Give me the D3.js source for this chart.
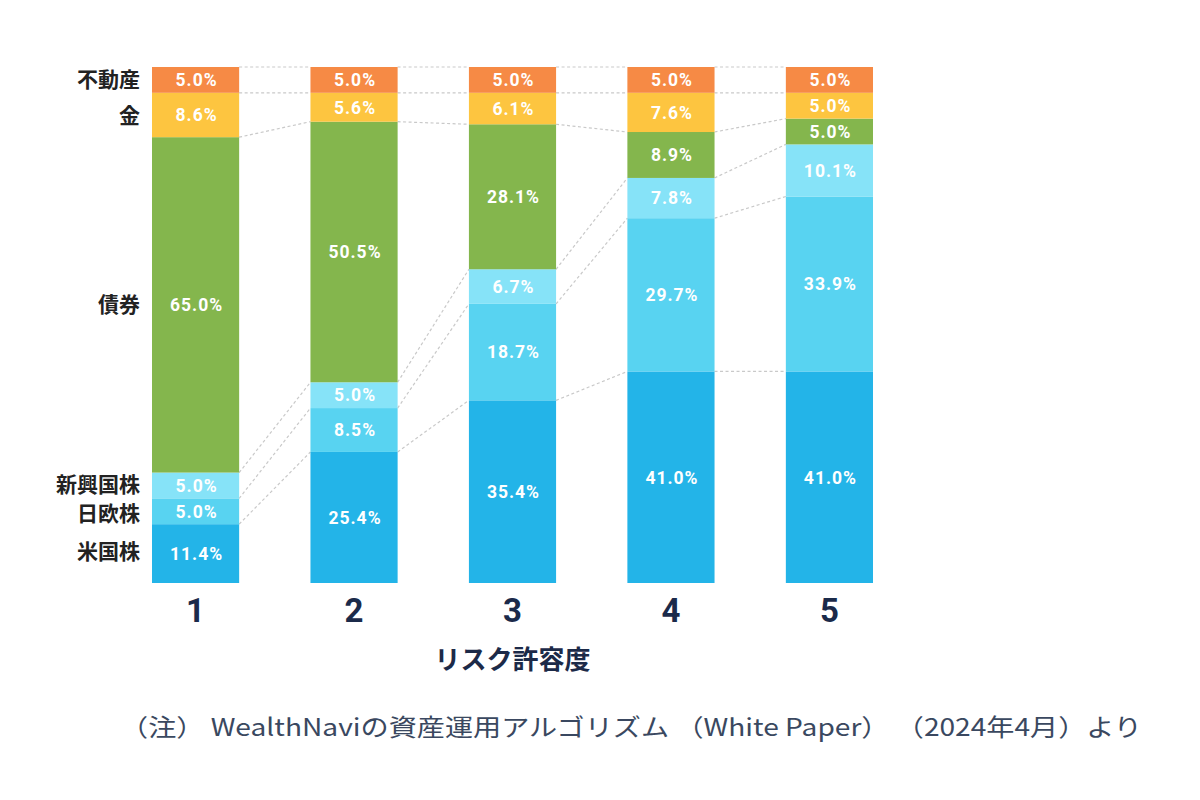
<!DOCTYPE html>
<html>
<head>
<meta charset="utf-8">
<script src="https://cdn.jsdelivr.net/npm/d3@7"></script>
<style>
  body { margin: 0; background: #fff; }
  svg { display: block; }
</style>
</head>
<body>
<div id="wrapper"></div>
<script>
// data
const levels = ["1", "2", "3", "4", "5"];
const assets = ["米国株", "日欧株", "新興国株", "債券", "金", "不動産"];
const usStocks = [11.4, 25.4, 35.4, 41.0, 41.0];
const jpEuStocks = [5.0, 8.5, 18.7, 29.7, 33.9];
const emStocks = [5.0, 5.0, 6.7, 7.8, 10.1];
const bonds = [65.0, 50.5, 28.1, 8.9, 5.0];
const gold = [8.6, 5.6, 6.1, 7.6, 5.0];
const realEstate = [5.0, 5.0, 5.0, 5.0, 5.0];
const xTitle = "リスク許容度";
const note = "（注） WealthNaviの資産運用アルゴリズム （White Paper） （2024年4月）より";

const colors = ["#23b4e8", "#58d3f1", "#86e3f8", "#84b64d", "#fdc540", "#f68a45"];
// small nudges so the crowded labels on the left don't collide
const labelNudge = { "米国株": -2, "日欧株": 2, "新興国株": -1.5 };

const series = [usStocks, jpEuStocks, emStocks, bonds, gold, realEstate];
const table = levels.map((lv, i) => {
  const row = { level: lv };
  assets.forEach((a, j) => (row[a] = series[j][i]));
  return row;
});
const stacked = d3.stack().keys(assets)(table);

// dimensions
const width = 1200, height = 800;
const svg = d3.select("#wrapper").append("svg")
  .attr("width", width).attr("height", height);

const xScale = d3.scaleBand()
  .domain(levels)
  .range([152, 873])
  .paddingInner(0.45)
  .paddingOuter(0);

const yScale = d3.scaleLinear()
  .domain([0, 100])
  .range([583, 67]);

// connectors
const connectors = svg.append("g");
stacked.forEach((s) => {
  for (let i = 0; i < levels.length - 1; i++) {
    connectors.append("line")
      .attr("x1", xScale(levels[i]) + xScale.bandwidth())
      .attr("x2", xScale(levels[i + 1]))
      .attr("y1", yScale(s[i][1]))
      .attr("y2", yScale(s[i + 1][1]))
      .attr("stroke", "#c9c9c9")
      .attr("stroke-width", 1.2)
      .attr("stroke-dasharray", "3 2.5");
  }
});

// bars
const layers = svg.append("g").selectAll("g")
  .data(stacked)
  .join("g")
  .attr("fill", (d, i) => colors[i]);

layers.selectAll("rect")
  .data((d) => d)
  .join("rect")
  .attr("x", (d) => xScale(d.data.level))
  .attr("width", xScale.bandwidth())
  .attr("y", (d) => yScale(d[1]))
  .attr("height", (d) => yScale(d[0]) - yScale(d[1]));

layers.selectAll("text")
  .data((d) => d)
  .join("text")
  .attr("x", (d) => xScale(d.data.level) + xScale.bandwidth() / 2 + 1)
  .attr("y", (d) => (yScale(d[0]) + yScale(d[1])) / 2)
  .attr("dy", "0.36em")
  .attr("text-anchor", "middle")
  .attr("fill", "#fff")
  .style("font-family", "Roboto, 'Noto Sans', sans-serif")
  .style("font-weight", "bold")
  .style("font-size", "17.5px")
  .style("letter-spacing", "1px")
  .text((d) => (d[1] - d[0]).toFixed(1) + "%");

// category labels (aligned to first bar)
svg.append("g").selectAll("text")
  .data(stacked)
  .join("text")
  .attr("x", 140)
  .attr("y", (s) => (yScale(s[0][0]) + yScale(s[0][1])) / 2 + (labelNudge[s.key] || 0))
  .attr("dy", "0.36em")
  .attr("text-anchor", "end")
  .attr("fill", "#222")
  .style("font-family", "'Noto Sans CJK JP', sans-serif")
  .style("font-weight", "bold")
  .style("font-size", "21px")
  .text((s) => s.key);

// x axis
const xAxis = svg.append("g")
  .attr("transform", "translate(0,583)")
  .call(d3.axisBottom(xScale).tickSize(0).tickPadding(16));
xAxis.select(".domain").remove();
xAxis.selectAll("text")
  .attr("fill", "#1b2a4a")
  .style("font-family", "Roboto, 'Noto Sans', sans-serif")
  .style("font-weight", "bold")
  .style("font-size", "33px");

svg.append("text")
  .attr("x", xScale("3") + xScale.bandwidth() / 2)
  .attr("y", 660)
  .attr("dy", "0.36em")
  .attr("text-anchor", "middle")
  .attr("fill", "#1c2a48")
  .style("font-family", "'Noto Sans CJK JP', sans-serif")
  .style("font-weight", "bold")
  .style("font-size", "26px")
  .text(xTitle);

// footnote
svg.append("text")
  .attr("x", 120)
  .attr("y", 736)
  .attr("fill", "#3a4860")
  .attr("textLength", 1022)
  .attr("lengthAdjust", "spacingAndGlyphs")
  .style("font-family", "'Noto Sans CJK JP', sans-serif")
  .style("font-size", "24px")
  .text(note);
</script>
</body>
</html>
